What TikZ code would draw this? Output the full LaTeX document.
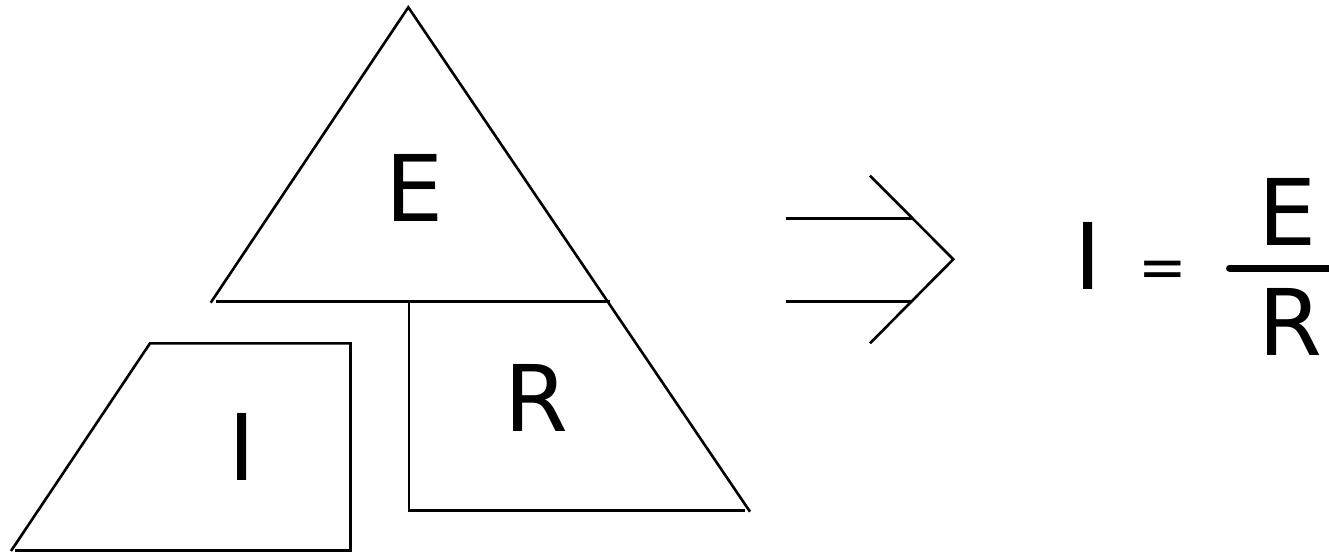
\documentclass[tikz,border=0pt]{standalone}
\usepackage{fontspec}
\setmainfont{DejaVu Sans}
\begin{document}
\begin{tikzpicture}[x=1pt,y=-1pt,
  shape line/.style={line width=2.6pt,line join=miter},
  letter/.style={inner sep=0pt,font=\fontsize{92}{100}\selectfont},
  eqsign/.style={inner sep=0pt,font=\fontsize{58}{60}\selectfont}]
\useasboundingbox (0,0) rectangle (1329,553);
% triangle top part (E)
\draw[shape line] (210.7,302.7) -- (408.3,7.3) -- (750,511.7);
\draw[shape line] (216,301.5) -- (610,301.5);
% R part
\draw[shape line] (409,301.5) -- (409,510.5) -- (745,510.5);
% I part
\draw[shape line] (11,551) -- (150,343.3) -- (350.5,343.3) -- (350.5,550.5) -- (15,550.5);
% letters
\node[letter] (E) at (415,188) {E};
\node[letter] (R) at (536,397.5) {R};
\node[letter] (I) at (242,447) {I};
% implies arrow
\coordinate (a1) at (785.5,218.3);
\coordinate (a2) at (911.5,218.3);
\coordinate (b1) at (785.5,301.7);
\coordinate (b2) at (911.5,301.7);
\coordinate (ct) at (870,175.7);
\coordinate (tip) at (953.3,259.3);
\coordinate (cb) at (870,343.3);
\draw[shape line] (a1) -- (a2);
\draw[shape line] (b1) -- (b2);
\draw[shape line] (ct) -- (tip) -- (cb);
% equation
\node[letter] (Ieq) at (1088,255.5) {I};
\node[eqsign] (eq) at (1163,274.5) {=};
\node[letter] (Enum) at (1288,211.5) {E};
\node[letter] (Rden) at (1290,322) {R};
\coordinate (barL) at (1229.5,268);
\coordinate (barR) at (1335,268);
\draw[line width=7pt,line cap=round] (barL) -- (barR);
\end{tikzpicture}
\end{document}
